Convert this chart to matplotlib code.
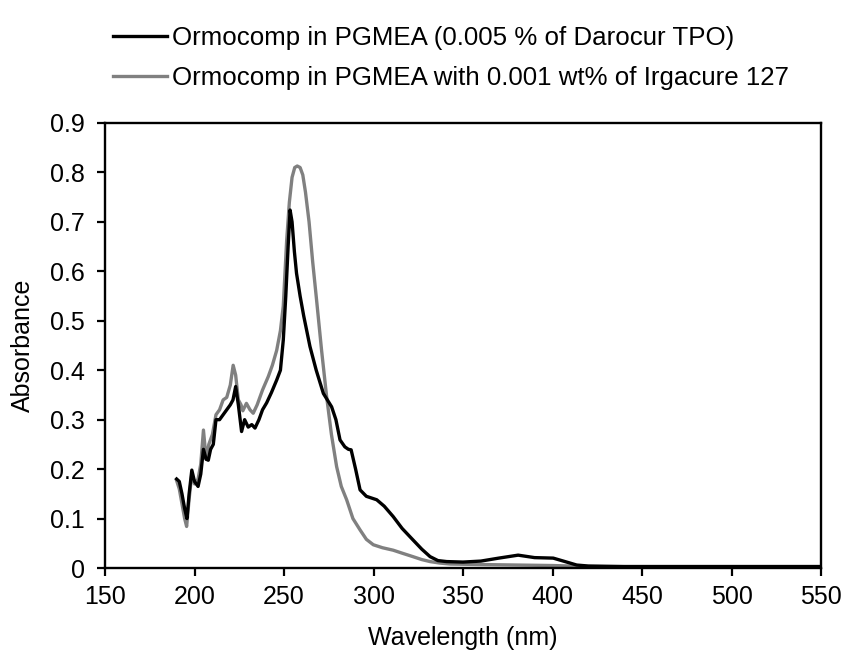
import matplotlib
matplotlib.use("Agg")
import matplotlib.pyplot as plt
import numpy as np

plt.rcParams['font.family'] = ['Liberation Sans', 'DejaVu Sans']

# Series 1: Ormocomp in PGMEA (0.005 % of Darocur TPO) -- black
wl_black = [190, 191.5, 193, 194.5, 195.8, 197, 198.5, 200, 202, 203.5, 205, 206.5, 207.7,
            209, 210.5, 212, 214, 216, 218, 220, 221.5, 223, 224.5, 226.3, 228, 230, 232,
            233.8, 236, 238, 240.3, 243, 245.9, 248, 249.6, 251, 252.3, 253.4, 254.5, 255.8,
            257, 259, 261, 264.5, 268, 272, 276.6, 279, 281.3, 284, 286, 287.5, 290, 292.5,
            296, 301.8, 306, 311, 316, 322, 327, 331.6, 336, 340.9, 350, 360, 370, 380.8,
            390, 400.4, 407, 413.5, 420, 440, 470, 500, 530, 550]
abs_black = [0.18, 0.175, 0.15, 0.12, 0.10, 0.15, 0.198, 0.175, 0.165, 0.19, 0.24, 0.22, 0.218,
             0.24, 0.25, 0.30, 0.30, 0.31, 0.32, 0.33, 0.34, 0.367, 0.33, 0.276, 0.30, 0.285,
             0.29, 0.283, 0.30, 0.32, 0.334, 0.355, 0.38, 0.40, 0.461, 0.55, 0.65, 0.724, 0.70,
             0.64, 0.596, 0.55, 0.51, 0.448, 0.40, 0.353, 0.326, 0.30, 0.259, 0.245, 0.24,
             0.239, 0.20, 0.158, 0.145, 0.138, 0.125, 0.104, 0.08, 0.057, 0.038, 0.023, 0.015,
             0.013, 0.012, 0.014, 0.02, 0.026, 0.021, 0.02, 0.013, 0.006, 0.004, 0.003, 0.003,
             0.003, 0.003, 0.003]

# Series 2: Ormocomp in PGMEA with 0.001 wt% of Irgacure 127 -- gray
wl_gray = [190, 191.5, 193, 194.5, 195.6, 197, 198.5, 200, 202, 203.5, 205, 206.5, 208,
           210, 212, 214, 216, 218, 220, 221.6, 223, 224.5, 226, 227, 229, 231, 232.8, 235,
           238, 241.2, 243.5, 245.9, 248, 249.6, 251.5, 253, 254.5, 256, 257.4, 259, 260.5,
           262, 264, 266, 268.2, 271, 273.8, 276.5, 279.4, 282, 285, 288.5, 292.5, 296,
           299.9, 305, 311, 316, 322, 327, 331.6, 337, 343, 360, 380, 400, 420, 450, 500, 550]
abs_gray = [0.177, 0.16, 0.13, 0.10, 0.084, 0.14, 0.19, 0.17, 0.18, 0.21, 0.279, 0.22, 0.25,
            0.27, 0.31, 0.32, 0.34, 0.345, 0.37, 0.41, 0.39, 0.34, 0.33, 0.318, 0.333, 0.32,
            0.313, 0.33, 0.36, 0.387, 0.41, 0.44, 0.48, 0.53, 0.663, 0.74, 0.79, 0.81, 0.813,
            0.81, 0.795, 0.76, 0.70, 0.62, 0.542, 0.44, 0.347, 0.27, 0.205, 0.165, 0.138, 0.10,
            0.077, 0.058, 0.047, 0.041, 0.036, 0.03, 0.023, 0.017, 0.013, 0.01, 0.008, 0.007,
            0.006, 0.005, 0.003, 0.002, 0.002, 0.002]

label_black = "Ormocomp in PGMEA (0.005 % of Darocur TPO)"
label_gray = "Ormocomp in PGMEA with 0.001 wt% of Irgacure 127"

fs = 18
fig = plt.figure(figsize=(8.43, 6.5), dpi=100)
ax = fig.add_axes([105/843, 1-568/650, (821-105)/843, (568-123)/650])

l1, = ax.plot(wl_black, abs_black, color='black', lw=2.4, label=label_black, zorder=3)
l2, = ax.plot(wl_gray, abs_gray, color='#808080', lw=2.4, label=label_gray, zorder=2)

ax.set_xlim(150, 550)
ax.set_ylim(0, 0.9)
ax.set_xticks(np.arange(150, 551, 50))
ax.set_yticks(np.arange(0, 0.91, 0.1))
ax.set_yticklabels(['0'] + [f'{v:.1f}' for v in np.arange(0.1, 0.91, 0.1)])
ax.tick_params(direction='out', length=5.5, width=1.6, labelsize=fs, colors='black')
ax.tick_params(axis='x', pad=7)
ax.tick_params(axis='y', pad=9)
for s in ax.spines.values():
    s.set_linewidth(1.7)

ax.set_xlabel('Wavelength (nm)', fontsize=fs, labelpad=12)
ax.set_ylabel('Absorbance', fontsize=fs, labelpad=11)

leg = fig.legend(handles=[l1, l2], loc='upper left', bbox_to_anchor=(113/843, 1-26/650),
                 frameon=False, fontsize=18.6, handlelength=2.1, handletextpad=0.2,
                 labelspacing=0.62, borderaxespad=0, borderpad=0)

fig.savefig('out.png', dpi=100)
